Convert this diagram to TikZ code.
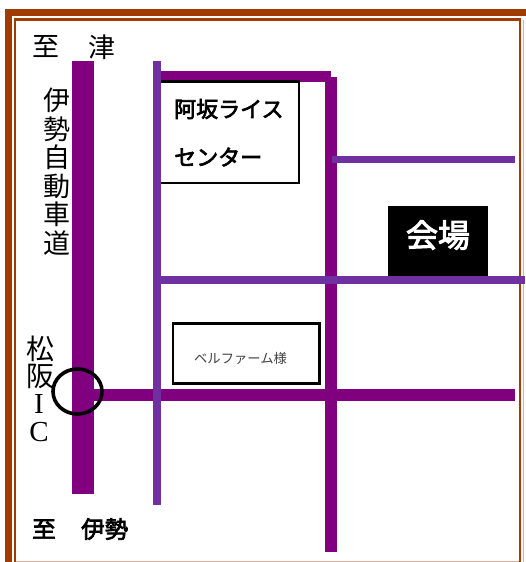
\documentclass[tikz,border=0pt]{standalone}
\usepackage{fontspec}
\newfontfamily\jpf{Noto Sans CJK JP}
\newfontfamily\jpb[FakeBold=3]{Noto Sans CJK JP}
\newfontfamily\srf{Liberation Serif}
\definecolor{roadm}{HTML}{800080}
\definecolor{roadv}{HTML}{7030A0}
\definecolor{frame}{HTML}{A03C00}
\tikzset{
  roadA/.style={fill=roadm,draw=none},
  roadB/.style={fill=roadv,draw=none},
  framefill/.style={fill=frame,draw=none},
  boxed/.style={draw=black,line width=2.1pt,fill=white},
  lab/.style={inner sep=0pt,font=\jpf,text=black},
  blab/.style={inner sep=0pt,font=\jpb,text=black,anchor=west},
}
\begin{document}
\begin{tikzpicture}[x=1pt,y=-1pt]
\useasboundingbox (0,0) rectangle (526,562);
\fill[white] (0,0) rectangle (526,562);
% frame
\fill[framefill] (5,9) rectangle (526,15.5);
\fill[framefill] (5,9) rectangle (11.5,562);
\fill[framefill] (14,18) rectangle (521,20.5);
\fill[framefill] (14,18) rectangle (16,562);
\fill[framefill] (519,18) rectangle (521,562);
\draw[frame!40,line width=0.6pt] (16,561) -- (519,561);
\draw[frame!40,line width=0.6pt] (523,20) -- (523,562);
% magenta roads
\fill[roadA] (72,61) rectangle (94,494);
\fill[roadA] (161,71) rectangle (331,82);
\fill[roadA] (325,77) rectangle (337,552);
\fill[roadA] (94,389) rectangle (515,401);
% boxes
\draw[boxed] (161,81.5) -- (299,81.5) -- (299,183) -- (161,183);
\draw[boxed] (173,323.5) rectangle (319.5,383.5);
\fill[black] (388,206) rectangle (488,276);
% violet roads
\fill[roadB] (153,61) rectangle (161,505);
\fill[roadB] (332,156) rectangle (515,163);
\fill[roadB] (153,276) rectangle (525,284);
% interchange
\draw[black,line width=3.6pt] (77.5,391.5) ellipse (24.5 and 22.5);
% labels
\node[lab,font=\jpf\fontsize{27}{27}\selectfont] (t1) at (46,47) {至};
\node[lab,font=\jpf\fontsize{27}{27}\selectfont] (t2) at (102,47) {津};
\foreach \c/\y/\n in {伊/100/a,勢/129/b,自/157/c,動/186/d,車/214/e,道/243/f}
  \node[lab,font=\jpf\fontsize{27}{27}\selectfont] (hw\n) at (57,\y) {\c};
\node[lab,font=\jpf\fontsize{28}{28}\selectfont] (ic1) at (40,349) {松};
\node[lab,font=\jpf\fontsize{28}{28}\selectfont] (ic2) at (40,376) {阪};
\node[lab,font=\srf\fontsize{29}{29}\selectfont] (ic3) at (39,404) {I};
\node[lab,font=\srf\fontsize{29}{29}\selectfont] (ic4) at (39,432) {C};
\node[blab,font=\jpb\fontsize{23.5}{23.5}\selectfont] (c1) at (32,529) {至};
\node[blab,font=\jpb\fontsize{23.5}{23.5}\selectfont] (c2) at (81,529) {伊勢};
\node[blab,font=\jpb\fontsize{22}{22}\selectfont] (r1) at (174,109) {阿坂ライス};
\node[blab,font=\jpb\fontsize{22}{22}\selectfont] (r2) at (174,157) {センター};
\node[lab,font=\jpf\fontsize{13.3}{14}\selectfont,text=black!75] (bf) at (240.5,358) {ベルファーム様};
\node[lab,font=\jpb\fontsize{32}{32}\selectfont,text=white] (v) at (438,235) {会場};
\end{tikzpicture}
\end{document}
